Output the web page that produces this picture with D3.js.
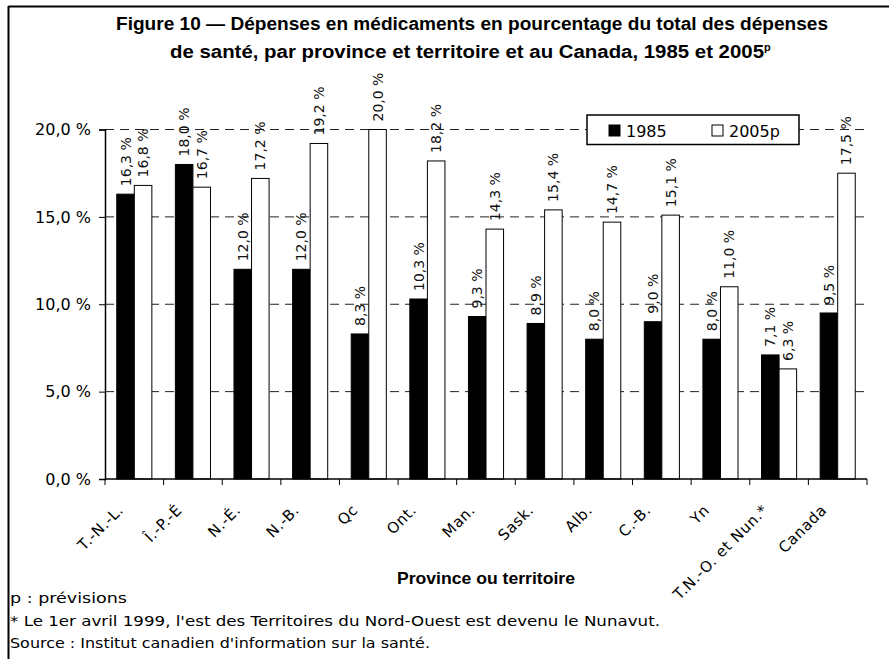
<!DOCTYPE html>
<html>
<head>
<meta charset="utf-8">
<script src="https://cdn.jsdelivr.net/npm/d3@7"></script>
<style>
  body { margin: 0; background: #fff; }
  svg { display: block; font-family: "DejaVu Sans", Verdana, sans-serif; }
</style>
</head>
<body>
<svg id="chart" width="889" height="659"></svg>
<script>
const categories = ["T.-N.-L.", "Î.-P.-É", "N.-É.", "N.-B.", "Qc", "Ont.", "Man.", "Sask.", "Alb.", "C.-B.", "Yn", "T.N.-O. et Nun.*", "Canada"];
const values1985 = [16.3, 18.0, 12.0, 12.0, 8.3, 10.3, 9.3, 8.9, 8.0, 9.0, 8.0, 7.1, 9.5];
const values2005 = [16.8, 16.7, 17.2, 19.2, 20.0, 18.2, 14.3, 15.4, 14.7, 15.1, 11.0, 6.3, 17.5];
const seriesNames = ["1985", "2005p"];
const yTicks = [0, 5, 10, 15, 20];

const svg = d3.select("#chart");
const W = 889, H = 659;
const margin = { top: 129.5, right: 22, bottom: 180, left: 105 };
const pct = d => d3.format(".1f")(d).replace(".", ",") + " %";

// frame (top + left only, as in the source)
svg.append("line").attr("x1", 8.5).attr("x2", W).attr("y1", 6.5).attr("y2", 6.5)
  .attr("stroke", "#000").attr("stroke-width", 2);
svg.append("line").attr("x1", 8.5).attr("x2", 8.5).attr("y1", 6).attr("y2", H)
  .attr("stroke", "#000").attr("stroke-width", 2);

// title
const title = svg.append("text").attr("font-weight", "bold")
  .attr("font-family", "'Liberation Sans', Arial, sans-serif")
  .attr("font-size", 17.5).attr("fill", "#000");
title.append("tspan").attr("x", 116).attr("y", 30)
  .attr("textLength", 712).attr("lengthAdjust", "spacingAndGlyphs")
  .text("Figure 10 — Dépenses en médicaments en pourcentage du total des dépenses");
const title2 = svg.append("text").attr("font-weight", "bold")
  .attr("font-family", "'Liberation Sans', Arial, sans-serif")
  .attr("font-size", 17.5).attr("fill", "#000");
title2.append("tspan").attr("x", 170).attr("y", 58)
  .attr("textLength", 594).attr("lengthAdjust", "spacingAndGlyphs")
  .text("de santé, par province et territoire et au Canada, 1985 et 2005");
title2.append("tspan").attr("dy", -7).attr("font-size", 11).text("p");

const x = d3.scaleBand().domain(categories)
  .range([margin.left, W - margin.right]).paddingInner(0).paddingOuter(0);
const x1 = d3.scaleBand().domain(seriesNames).range([0, x.bandwidth()])
  .paddingOuter(0.67).paddingInner(0);
const y = d3.scaleLinear().domain([0, 20]).range([H - margin.bottom, margin.top]);

// gridlines
svg.append("g").selectAll("line").data(yTicks.filter(d => d > 0)).enter().append("line")
  .attr("x1", margin.left).attr("x2", W - margin.right)
  .attr("y1", d => y(d)).attr("y2", d => y(d))
  .attr("stroke", "#222").attr("stroke-width", 1).attr("stroke-dasharray", "9,6");

// bars + value labels
const rows = categories.map((c, i) => ({ c, vals: [values1985[i], values2005[i]] }));
const g = svg.append("g");
rows.forEach(r => {
  r.vals.forEach((v, j) => {
    const bx = x(r.c) + x1(seriesNames[j]);
    g.append("rect")
      .attr("x", bx).attr("y", y(v))
      .attr("width", x1.bandwidth()).attr("height", y(0) - y(v))
      .attr("fill", j === 0 ? "#000" : "#fff")
      .attr("stroke", "#000").attr("stroke-width", 1);
    g.append("text")
      .attr("transform", `translate(${bx + x1.bandwidth() / 2 + 5},${y(v) - 8}) rotate(-90)`)
      .attr("font-size", 14).attr("fill", "#111")
      .text(pct(v));
  });
});

// axes
const yAxis = svg.append("g").attr("transform", `translate(${margin.left},0)`)
  .call(d3.axisLeft(y).tickValues(yTicks).tickSize(6).tickPadding(8).tickFormat(pct));
yAxis.selectAll("text").attr("font-size", 16).attr("fill", "#000")
  .attr("font-family", "'DejaVu Sans', Verdana, sans-serif");
yAxis.select(".domain").attr("stroke-width", 1.5);

const xAxis = svg.append("g").attr("transform", `translate(0,${y(0)})`);
xAxis.append("line").attr("x1", margin.left).attr("x2", W - margin.right)
  .attr("stroke", "#000").attr("stroke-width", 1.5);
xAxis.selectAll("line.tk").data(categories.concat(["__end"])).enter().append("line")
  .attr("class", "tk")
  .attr("x1", (d, i) => i < categories.length ? x(d) : W - margin.right)
  .attr("x2", (d, i) => i < categories.length ? x(d) : W - margin.right)
  .attr("y1", 0).attr("y2", 6).attr("stroke", "#000");
xAxis.selectAll("text").data(categories).enter().append("text")
  .attr("transform", d => `translate(${x(d) + x.bandwidth() / 2 - 10},${32}) rotate(-45)`)
  .attr("text-anchor", "end").attr("font-size", 15).attr("letter-spacing", 0.6)
  .attr("fill", "#000")
  .text(d => d);

// axis title
svg.append("text").attr("x", 397).attr("y", 584)
  .attr("font-family", "'Liberation Sans', Arial, sans-serif")
  .attr("font-weight", "bold").attr("font-size", 16.5)
  .attr("textLength", 178).attr("lengthAdjust", "spacingAndGlyphs")
  .text("Province ou territoire");

// footnotes
const notes = ["p : prévisions",
  "* Le 1er avril 1999, l'est des Territoires du Nord-Ouest est devenu le Nunavut.",
  "Source : Institut canadien d'information sur la santé."];
const noteWidths = [117, 650, 420];
svg.append("g").selectAll("text").data(notes).enter().append("text")
  .attr("x", 10).attr("y", (d, i) => 603 + i * 22.5)
  .attr("textLength", (d, i) => noteWidths[i]).attr("lengthAdjust", "spacingAndGlyphs")
  .attr("font-size", 14.5).attr("fill", "#000").text(d => d);

// legend
const lg = svg.append("g").attr("transform", "translate(587,115)");
lg.append("rect").attr("width", 212).attr("height", 29.5).attr("fill", "#fff")
  .attr("stroke", "#000").attr("stroke-width", 1.5);
seriesNames.forEach((s, i) => {
  const ox = 22 + i * 103;
  lg.append("rect").attr("x", ox).attr("y", 10).attr("width", 11).attr("height", 11)
    .attr("fill", i === 0 ? "#000" : "#fff").attr("stroke", "#000");
  lg.append("text").attr("x", ox + 17).attr("y", 21.5).attr("font-size", 16).text(s);
});
</script>
</body>
</html>
